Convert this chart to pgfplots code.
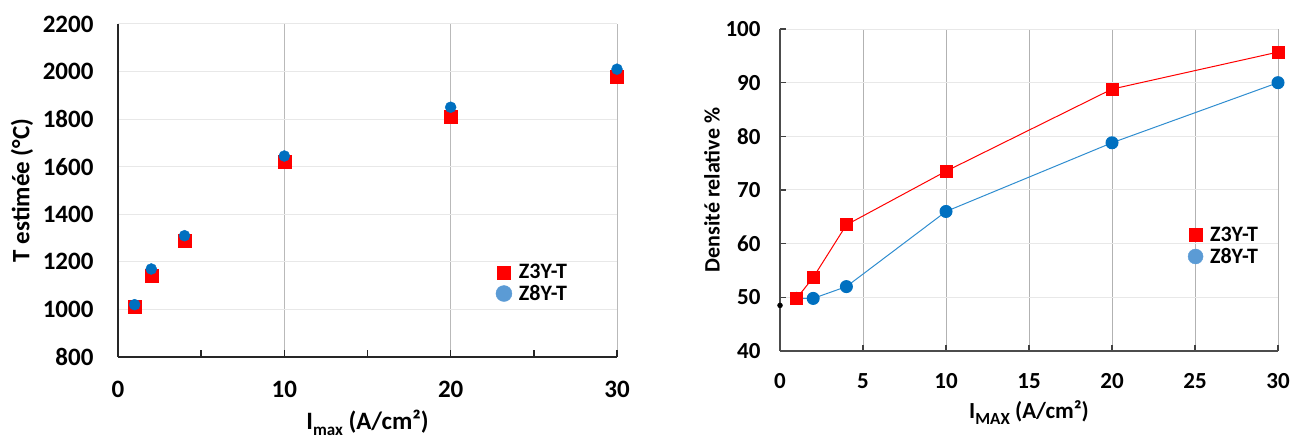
\documentclass[border=0pt]{standalone}
\usepackage{pgfplots}
\pgfplotsset{compat=1.18}
\usepackage{fontspec}
\setmainfont{Carlito}
\newfontfamily\cf{Carlito}
\definecolor{myred}{HTML}{FF0000}
\definecolor{myblue}{HTML}{0070C0}
\definecolor{lgblue}{HTML}{5B9BD5}
\definecolor{lineblue}{HTML}{2F8DD0}
\newcommand{\sub}[2]{\raisebox{-0.26em}{\fontsize{#1}{#1}\selectfont #2}}
\begin{document}
\begin{tikzpicture}
\useasboundingbox (0,0) rectangle (1306pt,441pt);
\pgfplotsset{
  common/.style={
    scale only axis, anchor=south west,
    axis x line*=bottom, axis y line*=left,
    axis line style={-, line width=1.8pt, black!85},
    /pgf/number format/assume math mode=true,
    /pgf/number format/1000 sep={},
    tick align=inside,
    clip=false,
    legend cell align=left,
    legend style={draw=none, fill=none, font=\cf\bfseries\fontsize{22}{22}\selectfont, row sep=1pt, inner sep=0pt},
  }
}
% ---------------- left
\begin{axis}[common,
  at={(118pt,84pt)}, width=499pt, height=333pt,
  xmin=0, xmax=30, ymin=800, ymax=2200,
  xtick={0,10,20,30}, minor xtick={5,15,25},
  ytick={800,1000,...,2200},
  ticklabel style={font=\cf\bfseries\fontsize{25}{25}\selectfont},
  label style={font=\cf\bfseries\fontsize{25}{25}\selectfont},
  major tick length=7pt, minor tick length=7pt,
  tick style={line width=1.5pt, black!85},
  ytick style={draw=none},
  grid=major,
  x grid style={gray!55, line width=0.8pt},
  y grid style={gray!18, line width=1pt},
  xticklabel style={yshift=-21pt},
  yticklabel style={xshift=-21pt},
  xlabel={I\sub{17}{max} (A/cm²)},
  ylabel={T estimée (°C)},
  xlabel style={at={(axis description cs:0.5,0)}, anchor=center, yshift=-66pt},
  ylabel style={at={(axis description cs:0,0.5)}, anchor=center, yshift=96pt},
  legend style={at={(0.757,0.222)}, anchor=west},
]
\addlegendimage{only marks, mark=square*, mark size=6.5pt, color=myred}
\addlegendentry{\hspace{5pt}Z3Y-T}
\addlegendimage{only marks, mark=*, mark size=8pt, color=lgblue}
\addlegendentry{\hspace{5pt}Z8Y-T}
\addplot[only marks, mark=square*, mark size=6.5pt, color=myred, forget plot] coordinates {
(1,1010) (2,1140) (4,1290) (10,1620) (20,1810) (30,1980)};
\addplot[only marks, mark=*, mark size=5.5pt, color=myblue, forget plot] coordinates {
(1,1020) (2,1170) (4,1310) (10,1645) (20,1850) (30,2010)};
\end{axis}
% ---------------- right
\begin{axis}[common,
  at={(780pt,90pt)}, width=498pt, height=322pt,
  xmin=0, xmax=30, ymin=40, ymax=100,
  xtick={0,5,...,30},
  ytick={40,50,...,100},
  ticklabel style={font=\cf\bfseries\fontsize{23}{23}\selectfont},
  label style={font=\cf\bfseries\fontsize{23}{23}\selectfont},
  major tick length=6pt,
  tick style={line width=1.2pt, black!75},
  axis line style={-, line width=1.8pt, black!70},
  grid=major,
  x grid style={gray!60, line width=1pt},
  y grid style={gray!18, line width=1pt},
  xticklabel style={yshift=-19pt},
  yticklabel style={xshift=-16pt},
  xlabel={I\sub{17}{MAX} (A/cm²)},
  ylabel={\fontsize{22}{22}\selectfont Densité relative \%},
  xlabel style={at={(axis description cs:0.5,0)}, anchor=center, yshift=-62pt},
  ylabel style={at={(axis description cs:0,0.5)}, anchor=center, yshift=68pt},
  legend style={at={(0.819,0.326)}, anchor=west},
]
\addlegendimage{only marks, mark=square*, mark size=6.5pt, color=myred}
\addlegendentry{\hspace{5pt}Z3Y-T}
\addlegendimage{only marks, mark=*, mark size=7.5pt, color=lgblue}
\addlegendentry{\hspace{5pt}Z8Y-T}
\addplot[color=lineblue, line width=1pt, mark=*, mark size=6pt, mark options={fill=myblue, draw=myblue}, forget plot] coordinates {
(1,49.8) (2,49.8) (4,52) (10,66) (20,78.8) (30,90)};
\addplot[color=myred, line width=1pt, mark=square*, mark size=6pt, mark options={fill=myred}, forget plot] coordinates {
(1,49.8) (2,53.7) (4,63.5) (10,73.5) (20,88.8) (30,95.7)};
\addplot[only marks, mark=*, mark size=2.5pt, color=black, forget plot] coordinates {(0,48.5)};
\end{axis}
\end{tikzpicture}
\end{document}
